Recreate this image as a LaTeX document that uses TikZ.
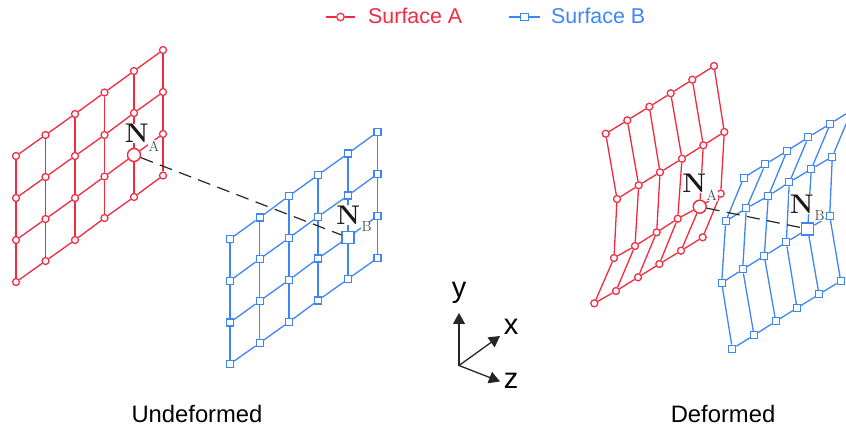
\documentclass[tikz,border=0pt]{standalone}
\usepackage{fontspec}
\usetikzlibrary{arrows.meta}
\newfontfamily\hv{Liberation Sans}
\definecolor{surfA}{HTML}{F22A40}
\definecolor{surfB}{HTML}{3F86F5}
\tikzset{
  grid line A/.style={draw=surfA,line width=1.3pt},
  grid line B/.style={draw=surfB,line width=1.3pt},
  ptA/.style={circle,draw=surfA,fill=white,line width=1.25pt,minimum size=7pt,inner sep=0pt},
  ptB/.style={rectangle,draw=surfB,fill=white,line width=1.25pt,minimum size=7pt,inner sep=0pt},
  ptAbig/.style={ptA,minimum size=13pt,line width=1.4pt},
  ptBbig/.style={ptB,minimum size=12pt,line width=1.4pt},
  keyA/.style={ptA,minimum size=7.5pt},
  keyB/.style={ptB,minimum size=7.5pt},
  labN/.style={fill=white,inner sep=0.5pt,text=black!90,font=\fontsize{27}{27}\selectfont\bfseries},
  labS/.style={fill=white,inner sep=0.5pt,text=black!70,font=\fontsize{14.5}{14.5}\selectfont},
  link/.style={draw=black!85,line width=1.2pt,dash pattern=on 13pt off 7.5pt},
  legA/.style={anchor=base west,inner sep=0pt,text=surfA,font=\hv\fontsize{21.4}{24}\selectfont},
  legB/.style={anchor=base west,inner sep=0pt,text=surfB,font=\hv\fontsize{21.4}{24}\selectfont},
  caption/.style={anchor=base,inner sep=0pt,font=\hv\fontsize{23.8}{26}\selectfont},
  axislabel/.style={inner sep=0pt,font=\hv\fontsize{29}{30}\selectfont},
  axis/.style={draw=black!85,line width=1.3pt,-{Triangle[length=11pt,width=12pt]}}
}
% #1 name prefix, #2 letter of the surface, #3 24 points, row by row
\newcommand{\meshsurface}[3]{%
  \foreach \px/\py [count=\i from 0] in {#3}{%
    \ifnum\i=16
      \node[pt#2big] (#1\i) at (\px,\py) {};
    \else
      \node[pt#2] (#1\i) at (\px,\py) {};
    \fi
  }%
  \foreach \r in {0,1,2,3}{\foreach \c in {0,1,2,3,4}{%
    \pgfmathtruncatemacro{\u}{\r*6+\c}\pgfmathtruncatemacro{\v}{\u+1}%
    \draw[grid line #2] (#1\u) -- (#1\v);
  }}%
  \foreach \r in {0,1,2}{\foreach \c in {0,1,2,3,4,5}{%
    \pgfmathtruncatemacro{\u}{\r*6+\c}\pgfmathtruncatemacro{\v}{\u+6}%
    \draw[grid line #2] (#1\u) -- (#1\v);
  }}%
}
\begin{document}
\begin{tikzpicture}[x=1pt,y=-1pt]
\useasboundingbox (0,0) rectangle (846,430);
\clip (0,0) rectangle (846,430);
% undeformed
\meshsurface{ua}{A}{16/156,45.5/135,75/114,104.5/92.5,134/71,163/50,
 16/198,45.5/177,75/156,104.5/135,134/113,163/92,
 16/240,45.5/219,75/198,104.5/176.5,134/155,163/134,
 16/282,45.5/261,75/240,104.5/218,134/197,163/175.5}
\meshsurface{ub}{B}{230/239,259.7/217.6,289/196,318/175,348/153.5,377.5/132,
 230/280.7,259.7/259,289/238,318/216.7,348/195.5,377.5/174,
 230/322.5,259.7/301,289/280,318/258.5,348/237.5,377.5/216,
 230/364,259.7/343,289/322,318/300.5,348/279,377.5/258}
\draw[link] (ua16) -- (ub16);
\node[labN] (una) at (136.7,133.5) {N};
\node[labS] (usa) at (154,146) {A};
\node[labN] (unb) at (348.3,215) {N};
\node[labS] (usb) at (366.7,227) {B};
% deformed
\meshsurface{da}{A}{605.7/133.7,627.3/120.3,649.3/106.7,670.7/93.3,692.3/79.7,714/66,
 617/199,638.7/185.3,660/172.3,682/158.7,703.3/145.3,724.3/132,
 614/258,635/246,656.7/232.3,677.7/218.7,699.7/206.7,720.7/193.7,
 594.3/303.3,616/291,638/277.3,659.3/264,681/250.7,702.7/237.3}
\meshsurface{db}{B}{743.7/177.7,765.3/164.3,787/151,808.3/137.3,830.3/123.7,852/110,
 725.7/221.3,746.3/208.3,768.3/196,789.3/182.3,811.3/169,832.3/156.7,
 721.7/283,742.7/269.3,764.3/256,786.3/242.3,807.7/229,829.7/216,
 732.3/348.7,754/335.3,775.7/321.3,797/308,819/294.3,840.7/281}
\draw[link] (da16) -- (db16);
\node[labN] (dna) at (694.3,183) {N};
\node[labS] (dsa) at (711.7,195) {A};
\node[labN] (dnb) at (801.7,204) {N};
\node[labS] (dsb) at (819.7,216) {B};
% legend
\coordinate (la0) at (326,17); \coordinate (la1) at (355,17);
\node[keyA] (lam) at (340.5,17) {};
\draw[grid line A] (la0) -- (lam); \draw[grid line A] (lam) -- (la1);
\node[legA] (lat) at (368,24) {Surface A};
\coordinate (lb0) at (509,17); \coordinate (lb1) at (540,17);
\node[keyB] (lbm) at (524.5,17) {};
\draw[grid line B] (lb0) -- (lbm); \draw[grid line B] (lbm) -- (lb1);
\node[legB] (lbt) at (551,24) {Surface B};
% axes
\coordinate (o) at (459,365.5);
\coordinate (ay) at (459,313); \coordinate (ax) at (500,336); \coordinate (az) at (500,381.5);
\draw[axis] (o) -- (ay);
\draw[axis] (o) -- (ax);
\draw[axis] (o) -- (az);
\node[axislabel] (ty) at (459,293) {y};
\node[axislabel] (tx) at (511,327) {x};
\node[axislabel] (tz) at (511,381) {z};
% captions
\node[caption] (cu) at (197,422) {Undeformed};
\node[caption] (cd) at (723,422) {Deformed};
\end{tikzpicture}
\end{document}
